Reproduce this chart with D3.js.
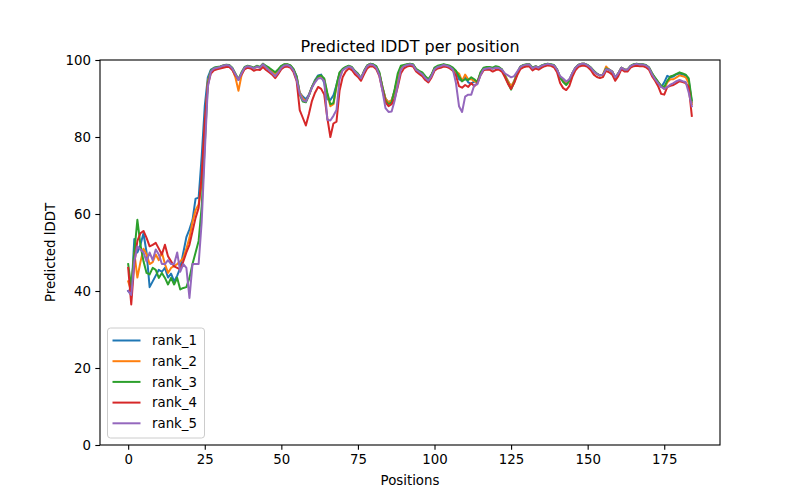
<!DOCTYPE html>
<html>
<head>
<meta charset="utf-8">
<script src="https://cdn.jsdelivr.net/npm/d3@7"></script>
<style>
  html, body { margin: 0; padding: 0; background: #fff; overflow: hidden; }
  svg { display: block; font-family: "DejaVu Sans", sans-serif; }
</style>
</head>
<body>
<div id="chart"></div>
<script>
// predicted lDDT per residue position, one array per ranked model
const rank1 = [
  40, 39, 53.5, 50, 52, 55, 50, 41, 42.5, 44,
  45.5, 45, 46, 43.5, 44.5, 42.5, 44, 46, 50, 54,
  56, 58.5, 64, 64.2, 75, 88, 95.5, 97.5, 97.9, 98.1,
  98.2, 98.5, 98.7, 98.6, 97.8, 96, 94.8, 96.5, 98, 98.4,
  98.2, 97.8, 98.4, 98, 99, 98.2, 97.6, 97, 96.3, 97.2,
  98.3, 98.8, 98.8, 98.5, 97.5, 95.8, 91.5, 90.5, 89.8, 91,
  93, 94.8, 96, 96.2, 94, 89.8, 89.6, 90.8, 93.5, 96.5,
  97.5, 98, 98.4, 98, 97, 96.3, 95.2, 97, 98.5, 99,
  98.8, 98.2, 96.5, 93, 90, 89, 89.5, 92, 95.5, 98,
  98.5, 98.8, 99, 98.8, 97.5, 97, 96.5, 95.5, 94.8, 96,
  97.8, 98.3, 98.5, 98.8, 98.6, 98.3, 97.8, 97, 95, 94.5,
  95.5, 94.2, 93.8, 94.5, 94.2, 96.5, 97.8, 98, 98, 97.8,
  98.2, 98, 97.5, 96, 94.5, 93, 94.5, 96.5, 98.2, 98.6,
  98.8, 98.8, 97.8, 98.3, 98, 98.5, 98.8, 99, 98.8, 98.6,
  97.5, 95.5, 94.5, 93.8, 94.8, 96.5, 98, 98.7, 99, 99,
  98.6, 98, 97, 96.4, 96, 96.2, 97.8, 97.5, 97, 95.3,
  96.5, 98, 97.5, 97.5, 98.4, 98.8, 99, 98.8, 98.8, 98.6,
  98, 96.5, 95.3, 94.2, 93, 94.2, 95.9, 95.5, 95.7, 96.3,
  96.5, 96.2, 96, 94.5, 89
];

const rank2 = [
  42.5, 40, 50, 43.5, 47.5, 51, 49.5, 47, 47.5, 49.5,
  48, 50, 47, 44.7, 46, 46.5, 47, 47.7, 48.6, 51,
  53.8, 58, 61, 62.5, 68, 82, 94.5, 97, 97.8, 98,
  98.2, 98.5, 98.7, 98.6, 97.6, 95.5, 92, 96, 98, 98.4,
  98.2, 97.8, 98.4, 98, 99, 98.2, 97.6, 97, 96.2, 97.2,
  98.3, 98.8, 98.8, 98.5, 97.5, 95.5, 91.5, 90, 89.2, 90.8,
  93, 94.5, 95.6, 95.8, 95, 91.2, 88, 88.5, 93, 96.5,
  97.5, 98, 98.4, 98, 97, 96.3, 95.2, 97, 98.5, 99,
  98.8, 98.2, 96.5, 93, 90, 89, 89.5, 92, 95.5, 98,
  98.5, 98.8, 99, 98.8, 97.5, 97, 96.5, 95.5, 94.8, 96,
  97.8, 98.3, 98.5, 98.8, 98.6, 98.3, 97.8, 97, 96.5, 94.5,
  96.2, 95, 95, 94.5, 94.2, 96.5, 97.8, 98, 98, 97.8,
  98.2, 98, 97.5, 96, 94.5, 93.2, 94.5, 96.5, 98.2, 98.6,
  98.8, 98.8, 97.8, 98.3, 98, 98.5, 98.8, 99, 98.8, 98.6,
  97.5, 95.5, 94.5, 93.8, 94.8, 96.5, 98, 98.7, 99, 99,
  98.6, 98, 97, 96.4, 96, 96.2, 98.3, 97.5, 97, 95.5,
  96.5, 98, 97.5, 97.5, 98.4, 98.8, 99, 98.8, 98.8, 98.6,
  98, 96.5, 95.3, 94.2, 93.2, 92.5, 94.2, 95, 95, 95.5,
  96, 95.8, 95.5, 94, 88.5
];

const rank3 = [
  47, 41, 50, 58.5, 52, 47.7, 44.7, 44.3, 46, 45.5,
  43.4, 44.7, 43.4, 41.7, 43.4, 41.7, 43.4, 40.4, 40.8, 41,
  43.4, 47, 50, 53, 62, 78, 94, 97.3, 98, 98.2,
  98.3, 98.6, 98.8, 98.7, 98, 96.5, 95, 96.8, 98.2, 98.5,
  98.3, 98, 98.5, 98.2, 99, 98.5, 98, 97.4, 96.8, 97.6,
  98.5, 98.9, 98.9, 98.6, 97.6, 95.6, 91, 89.2, 89, 90.8,
  93, 94.5, 95.8, 96, 95.2, 91.5, 88.5, 88.8, 93.5, 96.8,
  97.7, 98.2, 98.5, 98.2, 97.2, 96.5, 95.3, 97.2, 98.6, 99,
  98.9, 98.4, 96.8, 93, 89.5, 88.5, 89, 92.5, 96.5, 98.5,
  98.7, 98.9, 99, 98.9, 97.7, 97.2, 96.8, 95.8, 95, 96.2,
  98, 98.5, 98.7, 98.9, 98.7, 98.5, 98, 97.2, 95.8, 94.5,
  95, 94.8, 95.5, 95, 94.3, 96.8, 98, 98.2, 98.2, 98,
  98.4, 98.2, 97.6, 95.8, 94, 92.3, 94.2, 96.5, 98.3, 98.7,
  98.9, 98.9, 98, 98.4, 98.1, 98.6, 98.9, 99, 98.9, 98.7,
  97.6, 95.5, 94.3, 93.5, 94.5, 96.5, 98, 98.8, 99, 99,
  98.7, 98.1, 97.2, 96.5, 96, 96.2, 97.8, 97.5, 97, 95.5,
  96.5, 98, 97.5, 97.5, 98.5, 98.9, 99, 98.9, 98.9, 98.7,
  98.1, 96.6, 95.4, 94.3, 93.3, 93, 94.6, 95.7, 96, 96.4,
  96.8, 96.5, 96.2, 95.2, 89.5
];

const rank4 = [
  46, 36.5, 47, 53, 55, 55.6, 53.8, 51.6, 52, 52.5,
  51, 49.5, 52, 49, 47.7, 46.4, 46, 45.6, 47.7, 50,
  52, 55.5, 59, 61.6, 70, 84, 93.5, 96.5, 97.3, 97.6,
  97.8, 98, 98.2, 98.2, 97.4, 96, 95, 96.2, 97.6, 98,
  97.8, 97.2, 97.5, 97.4, 98.2, 97.4, 96.8, 96.2, 95.3, 96.4,
  97.6, 98.2, 98.3, 98, 96.8, 94.5, 87, 85, 83, 86,
  89.4, 91.5, 93, 92.5, 91, 85, 80, 83.5, 84, 92,
  95.5, 97, 97.8, 97.4, 96.3, 95.6, 94.6, 96.3, 97.8, 98.4,
  98.3, 97.6, 95.8, 92.2, 89, 88, 88.5, 90, 93, 96.5,
  97.8, 98.3, 98.5, 98.3, 97, 96.4, 95.8, 94.8, 94.2, 95.4,
  97.2, 97.8, 98, 98.3, 98.2, 97.8, 97.2, 96, 93.2, 92.8,
  93.5, 93, 94, 93.2, 94, 96, 97.3, 97.5, 97.5, 97,
  97.4, 97.5, 97, 95.5, 93.8, 92.5, 94, 96, 97.6, 98.1,
  98.3, 98.3, 97.3, 97.8, 97.5, 98, 98.4, 98.6, 98.5, 98.1,
  96.8, 94, 92.7, 92.2, 93.2, 95.6, 97.3, 98.2, 98.5, 98.5,
  98.2, 97.4, 96.2, 95.6, 95.3, 95.6, 97.2, 96.8, 96.2, 94.6,
  95.8, 97.6, 97, 97, 98, 98.4, 98.5, 98.4, 98.4, 98.1,
  97.5, 95.8, 94.6, 93.2, 91.2, 91, 93, 93.3, 93.5, 94,
  94.5, 94.3, 94, 93, 85.5
];

const rank5 = [
  40, 39, 47.7, 51.6, 50.8, 50, 47.7, 50, 48, 50.8,
  49.5, 47, 47, 48, 47, 47, 50, 45, 47, 46,
  38.2, 47, 47, 47, 58, 76, 93, 97, 97.8, 98,
  98.2, 98.5, 98.7, 98.6, 97.8, 96.3, 94.8, 96.5, 98, 98.4,
  98.2, 97.8, 98.3, 98, 98.9, 98.1, 97.3, 96.6, 95.8, 96.8,
  98, 98.6, 98.7, 98.3, 97.2, 94.8, 91.2, 89.5, 89.2, 90.8,
  92.8, 94.2, 95.2, 95.3, 94.5, 84.5, 84.3, 85.5, 87, 95,
  97.3, 97.9, 98.3, 98, 97, 96.2, 95.2, 97, 98.4, 98.9,
  98.7, 98, 96, 92, 87.5, 86.5, 86.6, 89.5, 93.5, 97.5,
  98.4, 98.7, 98.9, 98.7, 97.4, 96.9, 96.3, 95.3, 94.6, 95.8,
  97.6, 98.2, 98.4, 98.7, 98.5, 98.2, 97.5, 94, 88, 86.5,
  90.5, 91, 91, 93.5, 93.7, 96, 97.6, 97.8, 97.9, 97.7,
  98, 97.9, 97.5, 96.5, 96, 95.5, 95.8, 97, 98.2, 98.6,
  98.8, 98.8, 97.8, 98.3, 98, 98.5, 98.8, 99, 98.8, 98.6,
  97.5, 95.8, 95.2, 94.4, 95, 96.6, 98, 98.7, 99, 99,
  98.6, 98, 97, 96.4, 96, 96.2, 97.6, 97.5, 97, 95.5,
  96.5, 98, 97.5, 97.5, 98.4, 98.8, 99, 98.8, 98.8, 98.6,
  98, 96.3, 95, 94, 93, 92.5, 93, 93.6, 94, 94.5,
  94.8, 94.5, 94.3, 91.5, 88
];

const seriesNames = ['rank_1', 'rank_2', 'rank_3', 'rank_4', 'rank_5'];
const seriesValues = [rank1, rank2, rank3, rank4, rank5];
const colors = ['#1f77b4', '#ff7f0e', '#2ca02c', '#d62728', '#9467bd'];
const xTicks = [0, 25, 50, 75, 100, 125, 150, 175];
const yTicks = [0, 20, 40, 60, 80, 100];

const width = 800;
const height = 500;
const margin = { top: 60, right: 80, bottom: 55, left: 100 };
const innerWidth = width - margin.left - margin.right;
const innerHeight = height - margin.top - margin.bottom;

const svg = d3.select('#chart')
  .append('svg')
  .attr('width', width)
  .attr('height', height);

const g = svg.append('g')
  .attr('transform', `translate(${margin.left},${margin.top})`);

// matplotlib-like 5% padding on x
const n = rank1.length;
const pad = (n - 1) * 0.05;
const x = d3.scaleLinear()
  .domain([-pad, n - 1 + pad])
  .range([0, innerWidth]);

const y = d3.scaleLinear()
  .domain([0, 100])
  .range([innerHeight, 0]);

const line = d3.line()
  .x((d, i) => x(i))
  .y(d => y(d));

seriesValues.forEach((vals, k) => {
  g.append('path')
    .datum(vals)
    .attr('fill', 'none')
    .attr('stroke', colors[k])
    .attr('stroke-width', 2)
    .attr('stroke-linejoin', 'round')
    .attr('stroke-linecap', 'square')
    .attr('d', line);
});

const xAxis = g.append('g')
  .attr('transform', `translate(0,${innerHeight})`)
  .call(d3.axisBottom(x).tickValues(xTicks).tickSize(4.67));

const yAxis = g.append('g')
  .call(d3.axisLeft(y).tickValues(yTicks).tickSize(4.67));

[xAxis, yAxis].forEach(ax => {
  ax.select('.domain').remove();
  ax.selectAll('line').attr('stroke', '#000').attr('stroke-width', 1.1);
  ax.selectAll('text')
    .attr('fill', '#000')
    .attr('dy', null)
    .style('font-size', '13.33px')
    .style('font-family', '"DejaVu Sans", sans-serif');
});
xAxis.selectAll('text').attr('y', 18.5);
yAxis.selectAll('text').attr('x', -9).attr('y', 4.8);

// axes frame
g.append('rect')
  .attr('width', innerWidth)
  .attr('height', innerHeight)
  .attr('fill', 'none')
  .attr('stroke', '#000')
  .attr('stroke-width', 1.1);

svg.append('text')
  .attr('x', margin.left + innerWidth / 2)
  .attr('y', 52)
  .attr('text-anchor', 'middle')
  .style('font-size', '16px')
  .text('Predicted lDDT per position');

svg.append('text')
  .attr('x', margin.left + innerWidth / 2)
  .attr('y', 485)
  .attr('text-anchor', 'middle')
  .style('font-size', '13.33px')
  .text('Positions');

svg.append('text')
  .attr('transform', `translate(55,${margin.top + innerHeight / 2}) rotate(-90)`)
  .attr('text-anchor', 'middle')
  .style('font-size', '13.33px')
  .text('Predicted lDDT');

// legend, lower left
const legend = g.append('g')
  .attr('transform', 'translate(7.5,268)');

legend.append('rect')
  .attr('width', 97)
  .attr('height', 110)
  .attr('rx', 3)
  .attr('fill', '#fff')
  .attr('fill-opacity', 0.8)
  .attr('stroke', '#ccc')
  .attr('stroke-width', 1);

seriesNames.forEach((name, k) => {
  const row = legend.append('g')
    .attr('transform', `translate(0,${12.5 + k * 20.7})`);
  row.append('line')
    .attr('x1', 5)
    .attr('x2', 33)
    .attr('stroke', colors[k])
    .attr('stroke-width', 2);
  row.append('text')
    .attr('x', 44.5)
    .attr('y', 4.8)
    .style('font-size', '13.33px')
    .text(name);
});
</script>
</body>
</html>
